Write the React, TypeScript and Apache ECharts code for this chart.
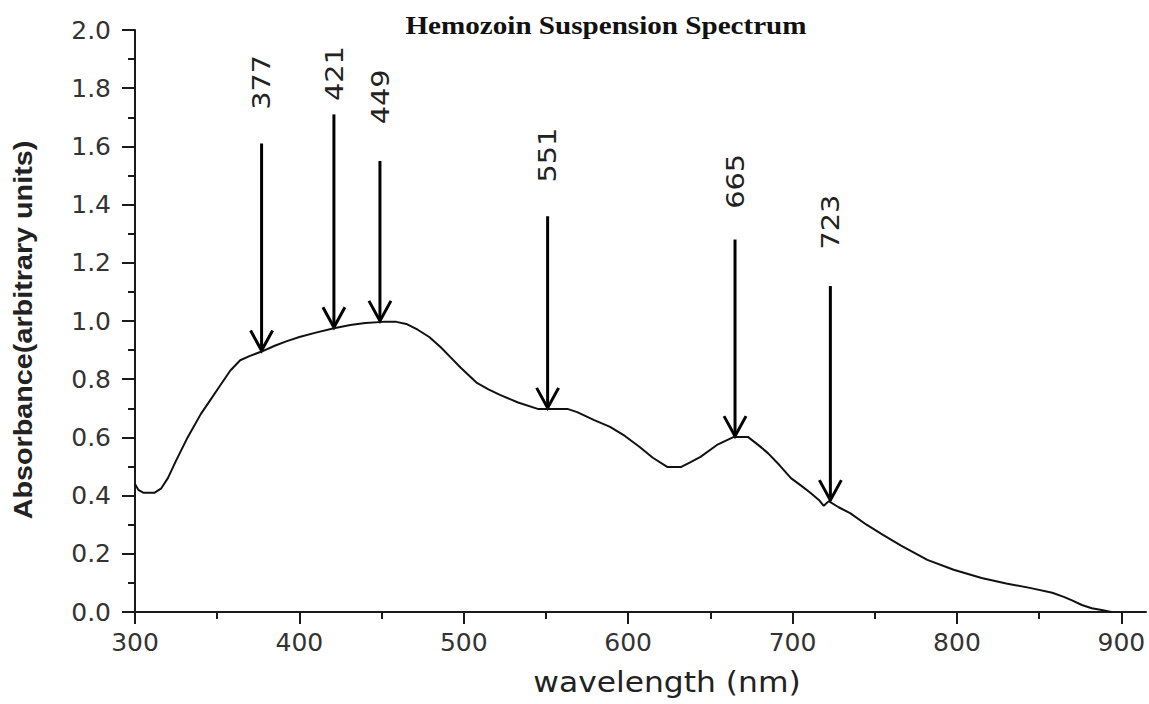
import React, { useEffect, useRef } from "react";
import * as echarts from "echarts";

// Absorbance spectrum of the hemozoin suspension
const wavelength = [
  300, 302, 305, 312, 316, 320, 325, 332, 340, 346, 352, 358, 364, 370, 377,
  385, 392, 400, 410, 421, 431, 440, 451, 459, 465, 472, 479, 486, 492, 498,
  508, 515, 522, 533, 545, 563, 569, 579, 589, 598, 607, 615, 624, 632, 638,
  644, 654, 664, 673, 680, 685, 692, 699, 705, 711, 716, 719, 722, 728, 735,
  745, 755, 766, 782, 798, 815, 830, 845, 858, 865, 870, 876, 882, 888, 894,
];
const absorbance = [
  0.44, 0.42, 0.41, 0.41, 0.425, 0.46, 0.52, 0.6, 0.68, 0.73, 0.78, 0.83, 0.865, 0.88, 0.895,
  0.915, 0.93, 0.945, 0.96, 0.975, 0.986, 0.993, 0.997, 0.997, 0.99, 0.97, 0.945, 0.91, 0.875, 0.84,
  0.787, 0.765, 0.746, 0.72, 0.698, 0.698, 0.687, 0.66, 0.636, 0.605, 0.567, 0.53, 0.498, 0.498, 0.515,
  0.533, 0.574, 0.601, 0.601, 0.57, 0.546, 0.505, 0.46, 0.435, 0.409, 0.385, 0.365, 0.381, 0.36, 0.34,
  0.3, 0.265, 0.228, 0.179, 0.145, 0.117, 0.098, 0.082, 0.066, 0.052, 0.04, 0.024, 0.013, 0.007, 0.0,
];

// Marked bands: wavelength (nm) and the absorbance the arrow points at
const peakNm = [377, 421, 449, 551, 665, 723];
const peakAbs = [0.895, 0.975, 0.997, 0.698, 0.601, 0.381];
// Arrow tail and label heights, in absorbance units
const arrowTailAbs = [1.61, 1.71, 1.55, 1.36, 1.28, 1.12];
const labelAbs = [1.82, 1.85, 1.77, 1.57, 1.48, 1.34];

const xMajorTicks = [300, 400, 500, 600, 700, 800, 900];
const xMinorTicks = [350, 450, 550, 650, 750, 850];

const AXIS_COLOR = "#1a1a1a";
const LABEL_COLOR = "#333";

export default function App() {
  const ref = useRef<HTMLDivElement>(null);

  useEffect(() => {
    if (!ref.current) return;
    const chart = echarts.init(ref.current, undefined, { renderer: "svg" });

    const spectrum = wavelength.map((w, i) => [w, absorbance[i]]);
    const arrows = peakNm.map((w, i) => [w, peakAbs[i], arrowTailAbs[i], labelAbs[i]]);

    chart.setOption({
      animation: false,
      backgroundColor: "#fff",
      grid: { left: 135, right: 3, top: 30, bottom: 92, outerBoundsMode: "none" },
      xAxis: [
        {
          type: "value",
          min: 300,
          max: 915,
          position: "bottom",
          axisLine: { show: true, onZero: false, lineStyle: { color: AXIS_COLOR, width: 2 } },
          axisTick: { show: true, length: 12, customValues: xMajorTicks, lineStyle: { color: AXIS_COLOR, width: 2 } },
          axisLabel: {
            customValues: xMajorTicks,
            margin: 18,
            color: LABEL_COLOR,
            fontFamily: "DejaVu Sans",
            fontSize: 25,
          },
          splitLine: { show: false },
        },
        {
          type: "value",
          min: 300,
          max: 915,
          position: "bottom",
          axisLine: { show: false },
          axisTick: { show: true, length: 7, customValues: xMinorTicks, lineStyle: { color: AXIS_COLOR, width: 2 } },
          axisLabel: { show: false },
          splitLine: { show: false },
        },
      ],
      yAxis: {
        type: "value",
        min: 0,
        max: 2,
        interval: 0.2,
        axisLine: { show: true, lineStyle: { color: AXIS_COLOR, width: 2 } },
        axisTick: { show: true, length: 13, lineStyle: { color: AXIS_COLOR, width: 2 } },
        minorTick: { show: true, splitNumber: 2, length: 7, lineStyle: { color: AXIS_COLOR, width: 2 } },
        axisLabel: {
          margin: 24,
          color: LABEL_COLOR,
          fontFamily: "DejaVu Sans",
          fontSize: 25,
          formatter: (v: number) => v.toFixed(1),
        },
        splitLine: { show: false },
      },
      series: [
        {
          type: "line",
          data: spectrum,
          xAxisIndex: 0,
          symbol: "none",
          smooth: false,
          lineStyle: { color: "#111", width: 2 },
        },
        {
          type: "custom",
          xAxisIndex: 0,
          clip: false,
          data: arrows,
          encode: { x: 0, y: 1 },
          renderItem: (params: any, api: any) => {
            const w = api.value(0);
            const tip = api.coord([w, api.value(1)]);
            const tail = api.coord([w, api.value(2)]);
            const lab = api.coord([w, api.value(3)]);
            const stroke = { stroke: "#000", lineWidth: 3, fill: "none" };
            return {
              type: "group",
              children: [
                {
                  type: "line",
                  shape: { x1: tail[0], y1: tail[1], x2: tip[0], y2: tip[1] - 1 },
                  style: stroke,
                },
                {
                  type: "polyline",
                  shape: {
                    points: [
                      [tip[0] - 11, tip[1] - 21],
                      [tip[0], tip[1] - 1],
                      [tip[0] + 11, tip[1] - 21],
                    ],
                  },
                  style: stroke,
                },
                {
                  type: "text",
                  x: lab[0],
                  y: lab[1],
                  rotation: Math.PI / 2,
                  scaleX: 1.15,
                  style: {
                    text: String(peakNm[params.dataIndex]),
                    fill: "#222",
                    fontFamily: "DejaVu Sans",
                    fontSize: 25,
                    align: "center",
                    verticalAlign: "middle",
                  },
                },
              ],
            };
          },
        },
      ],
      graphic: [
        {
          type: "text",
          x: 606,
          y: 25,
          scaleX: 1.12,
          style: {
            text: "Hemozoin Suspension Spectrum",
            fill: "#111",
            font: "bold 26px 'Liberation Serif'",
            align: "center",
            verticalAlign: "middle",
          },
        },
        {
          type: "text",
          x: 667,
          y: 682,
          scaleX: 1.12,
          style: {
            text: "wavelength (nm)",
            fill: "#222",
            font: "28px 'DejaVu Sans'",
            align: "center",
            verticalAlign: "middle",
          },
        },
        {
          type: "text",
          x: 24,
          y: 330,
          rotation: Math.PI / 2,
          scaleX: 1.15,
          style: {
            text: "Absorbance(arbitrary units)",
            fill: "#222",
            font: "bold 25px 'Liberation Sans'",
            align: "center",
            verticalAlign: "middle",
          },
        },
      ],
    });

    return () => chart.dispose();
  }, []);

  return (
    <div
      ref={ref}
      style={{ position: "fixed", left: 0, top: 0, width: 1149, height: 704 }}
    />
  );
}
